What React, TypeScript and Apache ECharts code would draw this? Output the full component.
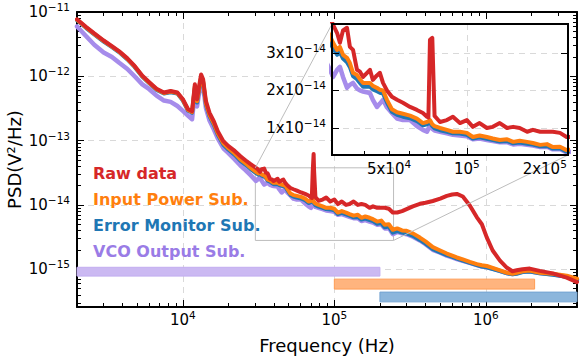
import { useEffect, useRef } from 'react';
import * as echarts from 'echarts';

const FONT = "'DejaVu Sans', sans-serif";

// ---------- data (frequency in Hz, PSD in V^2/Hz) ----------
const FREQ_HZ = [
  2000, 2300, 2600, 3000, 3400, 3800, 4300, 4800, 5400, 6000,
  6700, 7500, 8300, 9200, 10000, 10800, 11500, 12000, 12400, 12800,
  13200, 13600, 14200, 15000, 16000, 17000, 18500, 20000, 22000, 24000,
  26000, 28000,
  30400, 31500, 32300, 33200, 34400, 35300, 36300, 37600, 38600, 39700,
  42200, 43300, 44900, 46100, 47400, 49100, 51300, 53700, 56600, 60300,
  64100, 67600, 70100, 71000, 72000, 73500, 75000, 78700, 83700, 88300,
  94000, 100000, 105500, 112000, 119500, 126000, 134000, 143000, 151000, 160000,
  171000, 180000, 192000, 204000, 215000, 229000, 243000,
  260000, 280000, 300000, 330000, 367000, 400000, 447000, 500000, 553000, 600000,
  644000, 705000, 784000, 873000, 942000, 1016000, 1110000, 1240000, 1380000, 1500000,
  1600000, 1750000, 1950000, 2270000, 2770000, 3420000, 4000000,
];

const RAW_DATA = [
  7.7e-12, 5.85e-12, 4.65e-12, 3.6e-12, 2.95e-12, 2.45e-12, 1.9e-12, 1.45e-12, 1.02e-12, 8.1e-13,
  6.4e-13, 5.6e-13, 5.9e-13, 5.6e-13, 4.4e-13, 3.1e-13, 2.85e-13, 7.5e-13, 4.4e-13, 7.0e-13,
  1.07e-12, 9.0e-13, 4.1e-13, 2.7e-13, 2.0e-13, 1.4e-13, 9.8e-14, 8.2e-14, 6.9e-14, 5.7e-14,
  4.9e-14, 4.3e-14,
  3.75e-14, 3.53e-14, 3.27e-14, 3.6e-14, 3.67e-14, 3.16e-14, 3.08e-14, 2.55e-14, 2.5e-14, 2.36e-14,
  2.55e-14, 2.28e-14, 2.4e-14, 2.47e-14, 2.2e-14, 2.0e-14, 1.83e-14, 1.75e-14, 1.67e-14, 1.56e-14,
  1.48e-14, 1.4e-14, 1.3e-14, 1.28e-14, 3.35e-14, 3.4e-14, 1.32e-14, 1.16e-14, 1.21e-14, 1.3e-14,
  1.13e-14, 1.21e-14, 1.03e-14, 1.13e-14, 1.0e-14, 1.03e-14, 1.13e-14, 1.0e-14, 1.03e-14, 1.0e-14,
  9.0e-15, 9.5e-15, 9.0e-15, 9.0e-15, 9.0e-15, 8.7e-15, 7.6e-15,
  7.6e-15, 8.0e-15, 8.6e-15, 9.5e-15, 1.04e-14, 1.08e-14, 1.15e-14, 1.25e-14, 1.38e-14, 1.45e-14,
  1.48e-14, 1.35e-14, 9.8e-15, 6.4e-15, 5.0e-15, 3.1e-15, 1.95e-15, 1.36e-15, 1.05e-15, 9.3e-16,
  9.6e-16, 1.0e-15, 1.02e-15, 9.4e-16, 8.6e-16, 7.4e-16, 6.3e-16,
];

// narrow line peak only resolved in the full-range trace
const RAW_MAIN_PEAK: [number, number][] = [[73000, 6.2e-14]];

const INPUT_POWER_SUB = [
  7.6e-12, 5.75e-12, 4.58e-12, 3.55e-12, 2.9e-12, 2.41e-12, 1.87e-12, 1.43e-12, 1.0e-12, 7.95e-13,
  6.3e-13, 5.5e-13, 5.8e-13, 5.5e-13, 4.3e-13, 3.0e-13, 2.78e-13, 7.0e-13, 4.1e-13, 6.5e-13,
  9.9e-13, 8.4e-13, 3.8e-13, 2.5e-13, 1.86e-13, 1.3e-13, 9.1e-14, 7.6e-14, 6.3e-14, 5.1e-14,
  4.4e-14, 3.8e-14,
  3.27e-14, 3.08e-14, 3.16e-14, 2.95e-14, 2.87e-14, 2.73e-14, 2.47e-14, 2.41e-14, 2.3e-14, 2.2e-14,
  2.2e-14, 2.12e-14, 2.07e-14, 2.02e-14, 2.0e-14, 1.75e-14, 1.5e-14, 1.42e-14, 1.38e-14, 1.33e-14,
  1.25e-14, 1.13e-14, 1.16e-14, 1.18e-14, 1.21e-14, 1.1e-14, 1.05e-14, 1.0e-14, 9.5e-15, 9.0e-15,
  9.0e-15, 8.7e-15, 7.6e-15, 8.0e-15, 7.6e-15, 7.2e-15, 6.8e-15, 7.0e-15, 6.3e-15, 6.6e-15,
  6.3e-15, 6.0e-15, 5.5e-15, 5.7e-15, 4.9e-15, 5.0e-15, 4.1e-15,
  4.3e-15, 4.0e-15, 3.95e-15, 3.6e-15, 3.1e-15, 2.7e-15, 2.2e-15, 1.95e-15, 1.75e-15, 1.62e-15,
  1.52e-15, 1.42e-15, 1.3e-15, 1.2e-15, 1.15e-15, 1.12e-15, 1.05e-15, 9.6e-16, 8.8e-16, 8.5e-16,
  8.8e-16, 9.3e-16, 9.5e-16, 8.8e-16, 8.5e-16, 7.9e-16, 7.1e-16,
];

const ERROR_MONITOR_SUB = [
  7.45e-12, 5.62e-12, 4.48e-12, 3.47e-12, 2.84e-12, 2.36e-12, 1.83e-12, 1.4e-12, 9.8e-13, 7.8e-13,
  6.15e-13, 5.4e-13, 5.65e-13, 5.38e-13, 4.2e-13, 2.93e-13, 2.7e-13, 6.6e-13, 3.9e-13, 6.2e-13,
  9.4e-13, 8.0e-13, 3.6e-13, 2.38e-13, 1.76e-13, 1.23e-13, 8.6e-14, 7.2e-14, 6.0e-14, 4.85e-14,
  4.2e-14, 3.6e-14,
  3.12e-14, 2.95e-14, 3.02e-14, 2.85e-14, 2.75e-14, 2.62e-14, 2.38e-14, 2.3e-14, 2.2e-14, 2.1e-14,
  2.1e-14, 2.03e-14, 1.98e-14, 1.94e-14, 1.92e-14, 1.68e-14, 1.43e-14, 1.35e-14, 1.3e-14, 1.26e-14,
  1.18e-14, 1.07e-14, 1.1e-14, 1.12e-14, 1.15e-14, 1.05e-14, 9.9e-15, 9.4e-15, 9.0e-15, 8.6e-15,
  8.5e-15, 8.2e-15, 7.2e-15, 7.5e-15, 7.1e-15, 6.8e-15, 6.4e-15, 6.5e-15, 5.9e-15, 6.1e-15,
  5.8e-15, 5.6e-15, 5.1e-15, 5.2e-15, 4.5e-15, 4.6e-15, 3.7e-15,
  3.9e-15, 3.7e-15, 3.6e-15, 3.3e-15, 2.85e-15, 2.5e-15, 2.05e-15, 1.82e-15, 1.65e-15, 1.55e-15,
  1.46e-15, 1.36e-15, 1.25e-15, 1.16e-15, 1.1e-15, 1.07e-15, 1.0e-15, 9.3e-16, 8.6e-16, 8.3e-16,
  8.5e-16, 9.0e-16, 9.2e-16, 8.6e-16, 8.2e-16, 7.6e-16, 6.8e-16,
];

const VCO_OUTPUT_SUB = [
  5.95e-12, 4.2e-12, 3.1e-12, 2.35e-12, 2.0e-12, 1.62e-12, 1.3e-12, 1.0e-12, 7.5e-13, 6.3e-13,
  5.0e-13, 4.2e-13, 4.0e-13, 3.45e-13, 2.9e-13, 2.45e-13, 2.15e-13, 5.8e-13, 3.4e-13, 5.4e-13,
  8.3e-13, 7.0e-13, 3.2e-13, 2.05e-13, 1.5e-13, 1.08e-13, 7.6e-14, 6.4e-14, 5.1e-14, 4.1e-14,
  3.45e-14, 2.9e-14,
  2.36e-14, 2.55e-14, 2.63e-14, 2.36e-14, 2.07e-14, 2.15e-14, 2.2e-14, 2.05e-14, 2.0e-14, 1.97e-14,
  1.93e-14, 1.75e-14, 1.56e-14, 1.65e-14, 1.75e-14, 1.55e-14, 1.4e-14, 1.25e-14, 1.21e-14, 1.21e-14,
  1.05e-14, 9.5e-15, 9.0e-15, 9.8e-15, 1.05e-14, 9.8e-15, 9.3e-15, 9.0e-15, 8.6e-15, 8.2e-15,
  8.0e-15, 7.8e-15, 7.0e-15, 7.2e-15, 6.8e-15, 6.5e-15, 6.2e-15, 6.2e-15, 5.6e-15, 5.8e-15,
  5.5e-15, 5.3e-15, 4.9e-15, 5.0e-15, 4.3e-15, 4.4e-15, 3.5e-15,
  3.8e-15, 3.6e-15, 3.5e-15, 3.2e-15, 2.8e-15, 2.45e-15, 2.0e-15, 1.8e-15, 1.62e-15, 1.52e-15,
  1.44e-15, 1.35e-15, 1.25e-15, 1.16e-15, 1.1e-15, 1.07e-15, 1.02e-15, 9.4e-16, 8.7e-16, 8.4e-16,
  8.7e-16, 9.2e-16, 9.3e-16, 8.7e-16, 8.3e-16, 7.7e-16, 6.9e-16,
];

const SERIES_NAMES = ['Raw data', 'Input Power Sub.', 'Error Monitor Sub.', 'VCO Output Sub.'];

// frequency bands [from Hz, to Hz, low PSD, high PSD]
const BAND_VCO = [2000, 2e5, 7.8e-16, 1.07e-15];
const BAND_INPUT = [1e5, 2.1e6, 4.9e-16, 7.0e-16];
const BAND_ERROR = [2e5, 4e6, 3.1e-16, 4.4e-16];

// axes
const X_RANGE = [2000, 4e6];
const Y_RANGE = [2.58e-16, 1e-11];
const X_MAJOR = [1e4, 1e5, 1e6];
const Y_MAJOR = [1e-15, 1e-14, 1e-13, 1e-12, 1e-11];
const INSET_X_RANGE = [3.01e4, 2.46e5];
const INSET_Y_RANGE = [0.28e-14, 3.77e-14];
const INSET_X_MAJOR = [1e5];
const INSET_X_LABELS = [5e4, 1e5, 2e5];
const INSET_X_MINOR = [4e4, 5e4, 6e4, 7e4, 8e4, 9e4, 2e5];
const INSET_Y_TICKS = [1e-14, 2e-14, 3e-14];

// ---------- styles ----------
const LINE_COLORS = ['#d62728', '#ff7f0e', '#1f77b4', '#a68ceb'];
const TEXT_COLORS = ['#d62728', '#ff7f0e', '#1f77b4', '#9a7ce6'];
const LINE_WIDTHS = [4, 4, 4, 4.5];
const BAND_FILLS = ['#cbb9f2', '#ffb47e', '#8cb6dc'];
const BAND_BORDERS = ['#c2adf0', '#ff9d55', '#74a4d2'];

const lg = Math.log10;

function minorLogTicks(lo: number, hi: number): number[] {
  const out: number[] = [];
  for (let e = Math.floor(lg(lo)) - 1; e <= Math.ceil(lg(hi)); e++) {
    for (let k = 2; k <= 9; k++) {
      const v = k * Math.pow(10, e);
      if (v > lo * 1.001 && v < hi * 0.999) out.push(lg(v));
    }
  }
  return out;
}

const SUP = (s: string | number) => String(s).replace('-', '\u2212');

const tickRich = {
  b: { fontSize: 15, fontFamily: FONT, color: '#000', lineHeight: 18 },
  s: { fontSize: 10.5, fontFamily: FONT, color: '#000', lineHeight: 11, padding: [0, 0, 10, 0] },
};

export default function App() {
  const ref = useRef<HTMLDivElement>(null);

  useEffect(() => {
    if (!ref.current) return;
    const chart = echarts.init(ref.current, null, { renderer: 'svg' });

    const valuesByName: Record<string, number[]> = {
      'Raw data': RAW_DATA,
      'Input Power Sub.': INPUT_POWER_SUB,
      'Error Monitor Sub.': ERROR_MONITOR_SUB,
      'VCO Output Sub.': VCO_OUTPUT_SUB,
    };

    const drawOrder = [3, 2, 1, 0];
    const mainSeries: any[] = [];
    const insetSeries: any[] = [];

    drawOrder.forEach((idx) => {
      const name = SERIES_NAMES[idx];
      const vals = valuesByName[name];
      let pts: [number, number][] = FREQ_HZ.map((f, i) => [f, vals[i]] as [number, number]);
      const insetPts = pts.map(([f, v]) => [lg(f), v]);
      if (idx === 0) pts = [...pts, ...RAW_MAIN_PEAK].sort((a, b) => a[0] - b[0]);
      const common = {
        type: 'line',
        name,
        showSymbol: false,
        symbol: 'none',
        silent: true,
        clip: true,
        lineStyle: { color: LINE_COLORS[idx], width: LINE_WIDTHS[idx], join: 'round', cap: 'round' },
        itemStyle: { color: LINE_COLORS[idx] },
      };
      mainSeries.push({
        ...common,
        xAxisIndex: 0,
        yAxisIndex: 0,
        z: 2,
        data: pts.map(([f, v]) => [lg(f), lg(v)]),
      });
      insetSeries.push({
        ...common,
        xAxisIndex: 4,
        yAxisIndex: 4,
        z: 11,
        data: insetPts,
      });
    });

    const bands = [BAND_VCO, BAND_INPUT, BAND_ERROR];
    const bandSeries = {
      type: 'line',
      name: 'bands',
      xAxisIndex: 0,
      yAxisIndex: 0,
      data: [],
      silent: true,
      z: 1,
      markArea: {
        silent: true,
        data: [
          ...bands.map((b, i) => [
            {
              coord: [lg(b[0]), lg(b[2])],
              itemStyle: { color: BAND_FILLS[i], borderColor: BAND_BORDERS[i], borderWidth: 1 },
            },
            { coord: [lg(b[1]), lg(b[3])] },
          ]),
          [
            {
              coord: [lg(INSET_X_RANGE[0]), lg(INSET_Y_RANGE[0])],
              itemStyle: { color: 'rgba(0,0,0,0)', borderColor: '#bdbdbd', borderWidth: 1 },
            },
            { coord: [lg(INSET_X_RANGE[1]), lg(INSET_Y_RANGE[1])] },
          ],
        ],
      },
    };

    const xMain = [lg(X_RANGE[0]), lg(X_RANGE[1])];
    const yMain = [lg(Y_RANGE[0]), lg(Y_RANGE[1])];
    const xIn = [lg(INSET_X_RANGE[0]), lg(INSET_X_RANGE[1])];

    const axisBlack = { show: true, lineStyle: { color: '#000', width: 2 } };
    const noLine = { show: false };
    const dashed = { show: true, lineStyle: { color: '#d9d9d9', width: 1, type: [6, 5] } };
    const tick = (vals: number[], len: number) => ({
      show: true,
      inside: true,
      length: len,
      customValues: vals,
      lineStyle: { color: '#000', width: 1 },
    });

    const xMinorMain = minorLogTicks(X_RANGE[0], X_RANGE[1]);
    const yMinorMain = minorLogTicks(Y_RANGE[0], Y_RANGE[1]);

    const option: any = {
      animation: false,
      backgroundColor: '#fff',
      textStyle: { fontFamily: FONT },
      legend: {
        orient: 'vertical',
        left: 88,
        top: 160,
        padding: 0,
        itemGap: 0,
        itemWidth: 0,
        itemHeight: 10,
        icon: 'none',
        selectedMode: false,
        textStyle: { fontFamily: FONT, fontSize: 16, fontWeight: 'bold', lineHeight: 26 },
        data: SERIES_NAMES.map((n, i) => ({ name: n, textStyle: { color: TEXT_COLORS[i] } })),
      },
      grid: [
        { left: 77, top: 12, width: 500, height: 295, containLabel: false, outerBoundsMode: 'none' },
        {
          left: 332, top: 24, width: 236, height: 131, containLabel: false, outerBoundsMode: 'none',
          show: true, backgroundColor: '#fff', borderColor: '#000', borderWidth: 2, z: 10,
        },
      ],
      xAxis: [
        {
          type: 'value', gridIndex: 0, position: 'bottom', min: xMain[0], max: xMain[1],
          axisLine: axisBlack,
          axisTick: tick(X_MAJOR.map(lg), 7),
          axisLabel: {
            show: true, margin: 4, customValues: X_MAJOR.map(lg),
            formatter: (v: number) => `{b|10}{s|${SUP(Math.round(v))}}`,
            rich: tickRich,
          },
          splitLine: dashed,
          name: 'Frequency (Hz)', nameLocation: 'middle', nameGap: 29, nameMoveOverlap: false,
          nameTextStyle: { fontFamily: FONT, fontSize: 18, color: '#000' },
        },
        {
          type: 'value', gridIndex: 0, position: 'bottom', min: xMain[0], max: xMain[1],
          axisLine: noLine, axisTick: tick(xMinorMain, 4), axisLabel: { show: false }, splitLine: { show: false },
        },
        {
          type: 'value', gridIndex: 0, position: 'top', min: xMain[0], max: xMain[1],
          axisLine: axisBlack, axisTick: tick(X_MAJOR.map(lg), 7), axisLabel: { show: false }, splitLine: { show: false },
        },
        {
          type: 'value', gridIndex: 0, position: 'top', min: xMain[0], max: xMain[1],
          axisLine: noLine, axisTick: tick(xMinorMain, 4), axisLabel: { show: false }, splitLine: { show: false },
        },
        // inset
        {
          type: 'value', gridIndex: 1, position: 'bottom', min: xIn[0], max: xIn[1], z: 10.5,
          axisLine: noLine, axisTick: { show: true, length: 0, customValues: INSET_X_MAJOR.map(lg) },
          axisLabel: {
            show: true, margin: 5, customValues: INSET_X_LABELS.map(lg),
            formatter: (v: number) => {
              const e = Math.floor(v + 1e-9);
              const m = Math.round(Math.pow(10, v - e));
              return m === 1 ? `{b|10}{s|${e}}` : `{b|${m}x10}{s|${e}}`;
            },
            rich: tickRich,
          },
          splitLine: dashed,
        },
        {
          type: 'value', gridIndex: 1, position: 'bottom', min: xIn[0], max: xIn[1], z: 12,
          axisLine: axisBlack, axisTick: tick(INSET_X_MAJOR.map(lg), 7), axisLabel: { show: false }, splitLine: { show: false },
        },
        {
          type: 'value', gridIndex: 1, position: 'bottom', min: xIn[0], max: xIn[1], z: 12,
          axisLine: noLine, axisTick: tick(INSET_X_MINOR.map(lg), 4), axisLabel: { show: false }, splitLine: { show: false },
        },
        {
          type: 'value', gridIndex: 1, position: 'top', min: xIn[0], max: xIn[1], z: 12,
          axisLine: axisBlack, axisTick: { show: false }, axisLabel: { show: false }, splitLine: { show: false },
        },
      ],
      yAxis: [
        {
          type: 'value', gridIndex: 0, position: 'left', min: yMain[0], max: yMain[1],
          axisLine: axisBlack,
          axisTick: tick(Y_MAJOR.map(lg), 7),
          axisLabel: {
            show: true, margin: 7, customValues: Y_MAJOR.map(lg),
            formatter: (v: number) => `{b|10}{s|${SUP(Math.round(v))}}`,
            rich: tickRich,
          },
          splitLine: dashed,
          name: 'PSD(V\u00B2/Hz)', nameLocation: 'middle', nameGap: 54, nameRotate: 90, nameMoveOverlap: false,
          nameTextStyle: { fontFamily: FONT, fontSize: 18, color: '#000' },
        },
        {
          type: 'value', gridIndex: 0, position: 'left', min: yMain[0], max: yMain[1],
          axisLine: noLine, axisTick: tick(yMinorMain, 4), axisLabel: { show: false }, splitLine: { show: false },
        },
        {
          type: 'value', gridIndex: 0, position: 'right', min: yMain[0], max: yMain[1],
          axisLine: axisBlack, axisTick: tick(Y_MAJOR.map(lg), 7), axisLabel: { show: false }, splitLine: { show: false },
        },
        {
          type: 'value', gridIndex: 0, position: 'right', min: yMain[0], max: yMain[1],
          axisLine: noLine, axisTick: tick(yMinorMain, 4), axisLabel: { show: false }, splitLine: { show: false },
        },
        // inset
        {
          type: 'value', gridIndex: 1, position: 'left', min: INSET_Y_RANGE[0], max: INSET_Y_RANGE[1], z: 10.5,
          axisLine: noLine, axisTick: { show: true, length: 0, customValues: INSET_Y_TICKS },
          axisLabel: {
            show: true, margin: 6, customValues: INSET_Y_TICKS,
            formatter: (v: number) => `{b|${Math.round(v / 1e-14)}x10}{s|${SUP(-14)}}`,
            rich: tickRich,
          },
          splitLine: dashed,
        },
        {
          type: 'value', gridIndex: 1, position: 'left', min: INSET_Y_RANGE[0], max: INSET_Y_RANGE[1], z: 12,
          axisLine: axisBlack, axisTick: tick(INSET_Y_TICKS, 7), axisLabel: { show: false }, splitLine: { show: false },
        },
        {
          type: 'value', gridIndex: 1, position: 'right', min: INSET_Y_RANGE[0], max: INSET_Y_RANGE[1], z: 12,
          axisLine: axisBlack, axisTick: tick(INSET_Y_TICKS, 7), axisLabel: { show: false }, splitLine: { show: false },
        },
      ],
      series: [bandSeries, ...mainSeries, ...insetSeries],
    };

    chart.setOption(option);

    const p1 = chart.convertToPixel({ xAxisIndex: 0, yAxisIndex: 0 } as any, [xIn[0], lg(INSET_Y_RANGE[1])]) as number[];
    const q1 = chart.convertToPixel({ xAxisIndex: 4, yAxisIndex: 4 } as any, [xIn[0], INSET_Y_RANGE[1]]) as number[];
    const p2 = chart.convertToPixel({ xAxisIndex: 0, yAxisIndex: 0 } as any, [xIn[1], lg(INSET_Y_RANGE[0])]) as number[];
    const q2 = chart.convertToPixel({ xAxisIndex: 4, yAxisIndex: 4 } as any, [xIn[1], INSET_Y_RANGE[0]]) as number[];

    if (p1 && q1 && p2 && q2) {
      chart.setOption({
        graphic: [
          {
            type: 'line', silent: true, z: 3,
            shape: { x1: p1[0], y1: p1[1], x2: q1[0], y2: q1[1] },
            style: { stroke: '#bdbdbd', lineWidth: 1 },
          },
          {
            type: 'line', silent: true, z: 3,
            shape: { x1: p2[0], y1: p2[1], x2: q2[0], y2: q2[1] },
            style: { stroke: '#bdbdbd', lineWidth: 1 },
          },
        ],
      });
    }

    return () => chart.dispose();
  }, []);

  return (
    <div
      ref={ref}
      style={{ position: 'fixed', left: 0, top: 0, width: 581, height: 358, background: '#fff' }}
    />
  );
}
